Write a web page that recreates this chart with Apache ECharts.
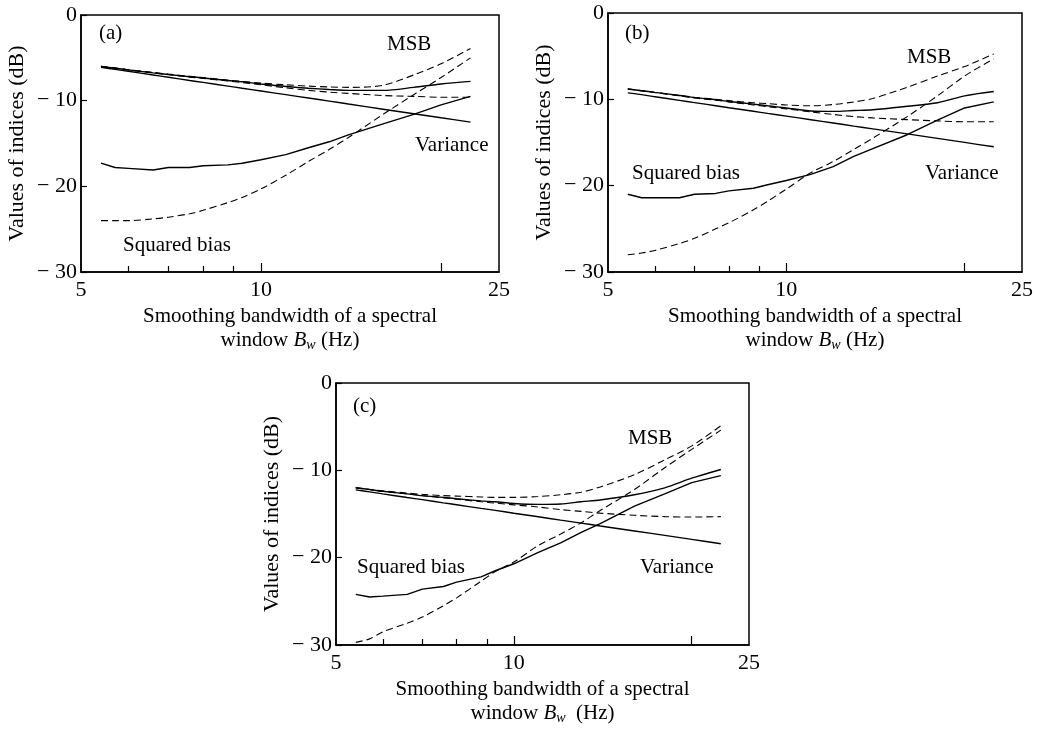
<!DOCTYPE html>
<html>
<head>
<meta charset="utf-8">
<script src="https://cdn.jsdelivr.net/npm/echarts@6/dist/echarts.min.js"></script>
<style>
  html, body { margin: 0; padding: 0; background: #fff; }
  #chart { width: 1040px; height: 729px; }
</style>
</head>
<body>
<div id="chart"></div>
<script>
// smoothing bandwidth Bw (Hz), shared by all three panels
const bw = [5.4, 5.7, 6, 6.6, 7, 7.6, 8, 8.8, 9.3, 10, 11, 12, 13, 14, 16, 18, 20, 22.4]

// panel (a)
const msbA = [-6.0, -6.2, -6.4, -6.75, -6.95, -7.2, -7.35, -7.65, -7.8, -8.05, -8.35, -8.55, -8.7, -8.8, -8.8, -8.45, -8.05, -7.75]
const msbDashA = [-6.0, -6.2, -6.4, -6.7, -6.9, -7.15, -7.3, -7.6, -7.75, -7.95, -8.15, -8.3, -8.4, -8.45, -8.2, -7.0, -5.7, -3.9]
const varA = [-6.1, -6.35, -6.57, -7.0, -7.27, -7.65, -7.87, -8.3, -8.55, -8.87, -9.3, -9.69, -10.05, -10.39, -11.0, -11.52, -12.0, -12.5]
const varDashA = [-6.0, -6.2, -6.4, -6.75, -6.95, -7.25, -7.4, -7.7, -7.9, -8.15, -8.5, -8.8, -9.0, -9.15, -9.4, -9.5, -9.6, -9.6]
const biasA = [-17.3, -17.8, -17.9, -18.1, -17.8, -17.8, -17.6, -17.5, -17.3, -16.9, -16.3, -15.5, -14.8, -14.0, -12.7, -11.6, -10.5, -9.5]
const biasDashA = [-24.0, -24.0, -24.0, -23.8, -23.6, -23.2, -22.8, -21.9, -21.3, -20.3, -18.7, -17.1, -15.7, -14.3, -11.6, -9.3, -7.3, -5.0]

// panel (b)
const msbB = [-8.8, -9.0, -9.2, -9.55, -9.8, -10.05, -10.25, -10.55, -10.75, -11.0, -11.35, -11.4, -11.3, -11.2, -10.8, -10.4, -9.6, -9.1]
const msbDashB = [-8.8, -9.0, -9.2, -9.55, -9.75, -10.0, -10.15, -10.4, -10.5, -10.65, -10.75, -10.6, -10.3, -9.9, -8.6, -7.3, -6.2, -4.75]
const varB = [-9.25, -9.46, -9.7, -10.12, -10.38, -10.74, -10.97, -11.38, -11.63, -11.94, -12.36, -12.74, -13.1, -13.42, -14.0, -14.52, -14.99, -15.5]
const varDashB = [-8.8, -9.0, -9.2, -9.6, -9.85, -10.1, -10.3, -10.65, -10.85, -11.1, -11.45, -11.75, -12.0, -12.15, -12.35, -12.5, -12.6, -12.6]
const biasB = [-21.0, -21.4, -21.4, -21.4, -21.0, -20.9, -20.6, -20.3, -19.9, -19.4, -18.7, -17.8, -16.6, -15.7, -14.1, -12.4, -11.0, -10.3]
const biasDashB = [-28.0, -27.8, -27.5, -26.7, -26.1, -25.0, -24.3, -22.8, -21.8, -20.4, -18.5, -17.2, -15.8, -14.5, -12.0, -9.6, -7.3, -5.3]

// panel (c)
const msbC = [-12.0, -12.2, -12.4, -12.7, -12.9, -13.1, -13.25, -13.5, -13.6, -13.8, -13.9, -13.85, -13.6, -13.4, -12.8, -12.0, -10.9, -9.9]
const msbDashC = [-12.0, -12.2, -12.35, -12.6, -12.75, -12.9, -12.95, -13.05, -13.1, -13.1, -13.0, -12.8, -12.5, -11.9, -10.5, -8.8, -7.2, -4.9]
const varC = [-12.24, -12.47, -12.7, -13.11, -13.36, -13.72, -13.94, -14.36, -14.59, -14.91, -15.32, -15.7, -16.04, -16.37, -16.94, -17.45, -17.91, -18.4]
const varDashC = [-12.0, -12.2, -12.4, -12.7, -12.9, -13.15, -13.3, -13.6, -13.75, -13.95, -14.2, -14.5, -14.7, -14.9, -15.15, -15.3, -15.35, -15.3]
const biasC = [-24.2, -24.5, -24.4, -24.2, -23.6, -23.3, -22.8, -22.2, -21.5, -20.7, -19.4, -18.3, -17.1, -16.1, -14.1, -12.7, -11.4, -10.6]
const biasDashC = [-29.7, -29.3, -28.5, -27.5, -26.8, -25.5, -24.6, -22.7, -21.6, -20.5, -18.6, -17.3, -16.0, -14.6, -12.2, -9.7, -7.6, -5.4]

// axis ticks
const xLabels = [5, 10, 25]
const xMinor = [6, 7, 8, 9]
const xMajor = [10, 20]
const yTicks = [0, -10, -20, -30]

const FONT = 'Liberation Serif'
const chart = echarts.init(document.getElementById('chart'))

const grids = [
  { left: 81, top: 15, width: 418, height: 257 },
  { left: 608, top: 13, width: 414, height: 259 },
  { left: 336, top: 383, width: 413, height: 262 }
]

const panels = [
  [msbA, msbDashA, varA, varDashA, biasA, biasDashA],
  [msbB, msbDashB, varB, varDashB, biasB, biasDashB],
  [msbC, msbDashC, varC, varDashC, biasC, biasDashC]
]

const xName = [
  'Smoothing bandwidth of a spectral\nwindow {i|B}{s|w} (Hz)',
  'Smoothing bandwidth of a spectral\nwindow {i|B}{s|w} (Hz)',
  'Smoothing bandwidth of a spectral\nwindow {i|B}{s|w}  (Hz)'
]

const xAxis = []
const yAxis = []
grids.forEach((g, i) => {
  xAxis.push({
    type: 'log',
    gridIndex: i,
    position: 'bottom',
    min: 5,
    max: 25,
    name: xName[i],
    nameLocation: 'middle',
    nameGap: 32,
    nameTextStyle: {
      fontFamily: FONT,
      fontSize: 21,
      color: '#000',
      lineHeight: 24,
      rich: {
        i: { fontFamily: FONT, fontSize: 21, fontStyle: 'italic', color: '#000' },
        s: { fontFamily: FONT, fontSize: 14, fontStyle: 'italic', color: '#000', verticalAlign: 'bottom', lineHeight: 14 }
      }
    },
    axisLine: { onZero: false, lineStyle: { color: '#000', width: 1.5 } },
    axisTick: { inside: true, length: 6, customValues: xMinor, lineStyle: { color: '#000', width: 1.2 } },
    axisLabel: { customValues: xLabels, color: '#000', fontFamily: FONT, fontSize: 22, margin: 7 },
    splitLine: { show: false }
  })
  yAxis.push({
    type: 'value',
    gridIndex: i,
    min: -30,
    max: 0,
    interval: 10,
    name: 'Values of indices (dB)',
    nameLocation: 'middle',
    nameGap: 53,
    nameTextStyle: { fontFamily: FONT, fontSize: 22, color: '#000' },
    axisLine: { show: true, onZero: false, lineStyle: { color: '#000', width: 1.5 } },
    axisTick: { inside: true, length: 6, lineStyle: { color: '#000', width: 1.2 } },
    axisLabel: {
      color: '#000',
      fontFamily: FONT,
      fontSize: 22,
      margin: 4,
      customValues: yTicks,
      formatter: v => (v === 0 ? '0' : '\u2212 ' + Math.abs(v))
    },
    splitLine: { show: false }
  })
})
// longer ticks at 10 and 20
grids.forEach((g, i) => {
  xAxis.push({
    type: 'log',
    gridIndex: i,
    position: 'bottom',
    min: 5,
    max: 25,
    axisLine: { show: false, onZero: false },
    axisTick: { inside: true, length: 9, customValues: xMajor, lineStyle: { color: '#000', width: 1.2 } },
    axisLabel: { show: false },
    splitLine: { show: false }
  })
})

const series = []
panels.forEach((lines, i) => {
  lines.forEach((ys, k) => {
    const dashed = k % 2 === 1
    series.push({
      type: 'line',
      xAxisIndex: i,
      yAxisIndex: i,
      symbol: 'none',
      smooth: k === 4 ? false : 0.3,
      silent: true,
      data: bw.map((x, j) => [x, ys[j]]),
      lineStyle: { color: '#000', width: dashed ? 1.1 : 1.4, type: dashed ? [7, 4] : 'solid' }
    })
  })
})

// panel annotations
const notes = [
  ['(a)', 99, 23], ['MSB', 387, 34], ['Variance', 415, 135], ['Squared bias', 123, 235],
  ['(b)', 625, 23], ['MSB', 907, 47], ['Squared bias', 632, 163], ['Variance', 925, 163],
  ['(c)', 353, 396], ['MSB', 628, 428], ['Squared bias', 357, 557], ['Variance', 640, 557]
]

chart.setOption({
  backgroundColor: '#fff',
  animation: false,
  grid: grids.map(g => Object.assign({ show: true, borderColor: '#000', borderWidth: 1.5, containLabel: false }, g)),
  xAxis,
  yAxis,
  series,
  graphic: notes.map(n => ({
    type: 'text',
    left: n[1],
    top: n[2],
    style: { text: n[0], fill: '#000', font: '21px "Liberation Serif"' }
  }))
})
</script>
</body>
</html>
